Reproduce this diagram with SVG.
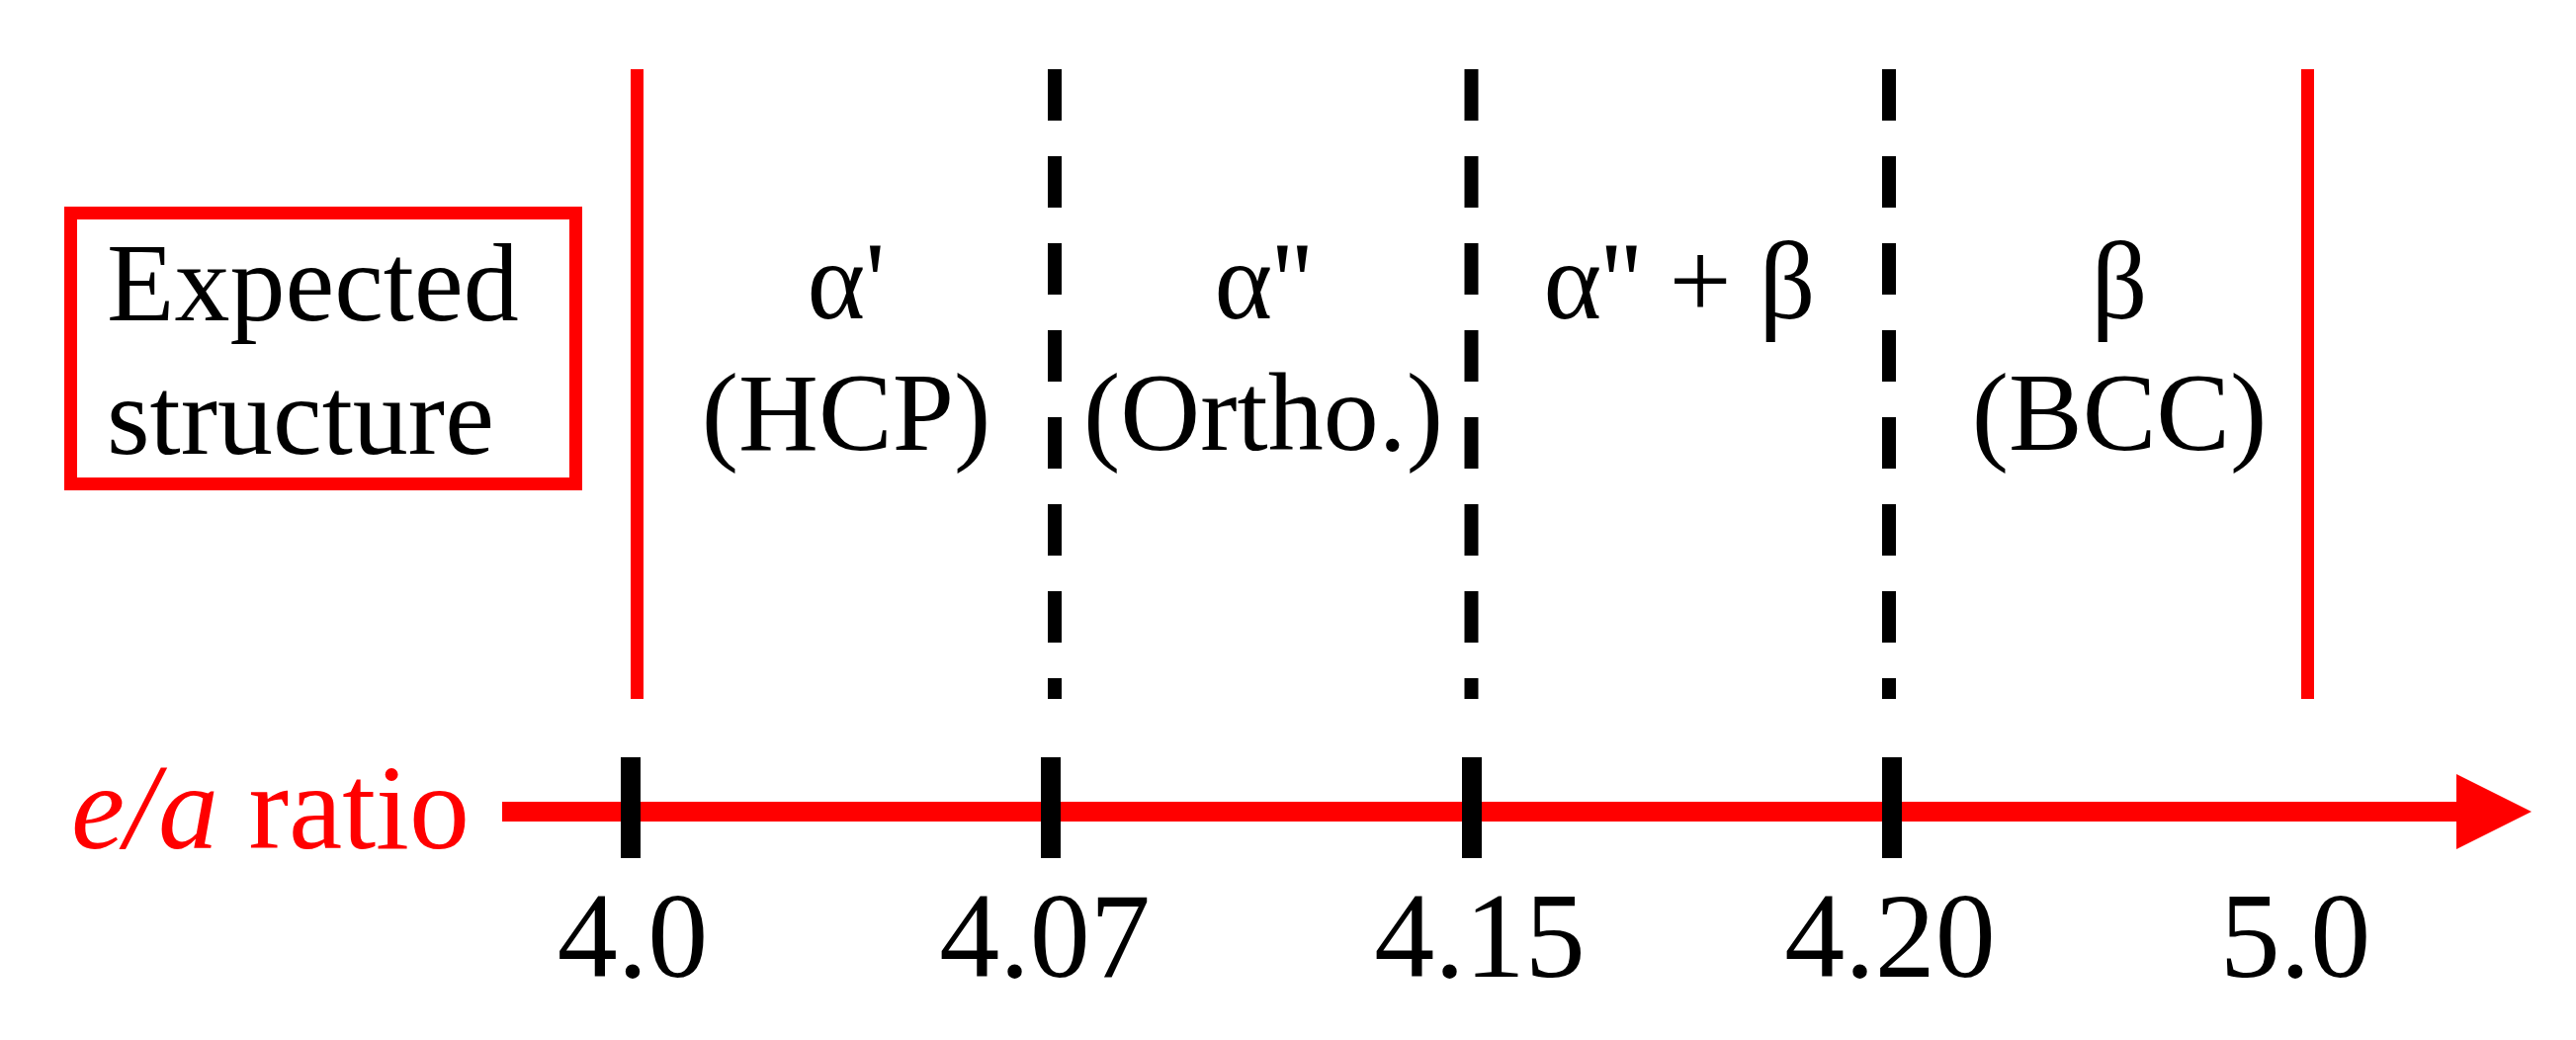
<svg xmlns="http://www.w3.org/2000/svg" width="2606" height="1052" viewBox="0 0 2606 1052">
<style>
text{font-family:"Liberation Serif","Times New Roman",serif;fill:#000}
.lbl{font-size:112px;text-anchor:middle}
.tick{font-size:122px;text-anchor:middle}
.red{fill:#FF0000}
.bound{stroke:#FF0000;stroke-width:13;fill:none}
.dash{stroke:#000;stroke-width:14;stroke-dasharray:52 36;fill:none}
.tk{stroke:#000;stroke-width:20}
</style>
<rect width="2606" height="1052" fill="#fff"/>
<g id="legend-box">
<rect x="71.5" y="215.5" width="511" height="274" fill="none" stroke="#FF0000" stroke-width="13"/>
<text x="108" y="324" font-size="112">Expected</text>
<text x="108" y="459" font-size="112">structure</text>
</g>
<g id="connectors">
<line class="bound" x1="644.5" y1="70" x2="644.5" y2="707"/>
<line class="dash" x1="1067" y1="70" x2="1067" y2="707"/>
<line class="dash" x1="1488.5" y1="70" x2="1488.5" y2="707"/>
<line class="dash" x1="1911" y1="70" x2="1911" y2="707"/>
<line class="bound" x1="2334.5" y1="70" x2="2334.5" y2="707"/>
<line x1="508" y1="821" x2="2490" y2="821" stroke="#FF0000" stroke-width="20"/>
<polygon points="2485,783 2561,821 2485,859" fill="#FF0000"/>
<line class="tk" x1="638" y1="766" x2="638" y2="868"/>
<line class="tk" x1="1063" y1="766" x2="1063" y2="868"/>
<line class="tk" x1="1489" y1="766" x2="1489" y2="868"/>
<line class="tk" x1="1914" y1="766" x2="1914" y2="868"/>
</g>
<g id="axis-label">
<text x="475" y="858" font-size="122" text-anchor="end" class="red"><tspan font-style="italic">e/a</tspan> ratio</text>
</g>
<g id="phase-hcp">
<text class="lbl" x="856" y="322">α'</text>
<text class="lbl" x="856" y="455">(HCP)</text>
</g>
<g id="phase-ortho">
<text class="lbl" x="1278" y="322">α''</text>
<text class="lbl" x="1278" y="455">(Ortho.)</text>
</g>
<g id="phase-mixed">
<text class="lbl" x="1699" y="322">α'' + β</text>
</g>
<g id="phase-bcc">
<text class="lbl" x="2144" y="322">β</text>
<text class="lbl" x="2144" y="455">(BCC)</text>
</g>
<g id="tick-labels">
<text class="tick" x="640" y="988">4.0</text>
<text class="tick" x="1057" y="988">4.07</text>
<text class="tick" x="1497" y="988">4.15</text>
<text class="tick" x="1912" y="988">4.20</text>
<text class="tick" x="2322" y="988">5.0</text>
</g>
</svg>
